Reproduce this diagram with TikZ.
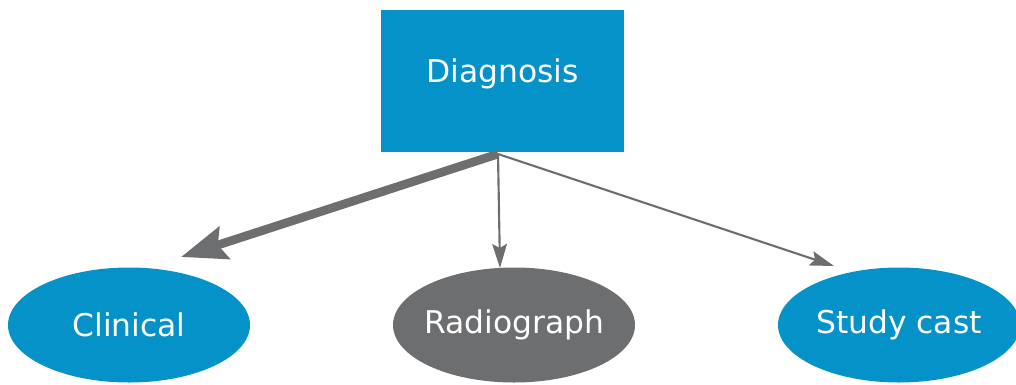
\documentclass[tikz,border=0pt]{standalone}
\usepackage{fontspec}
\setmainfont{DejaVu Sans}
\usetikzlibrary{arrows.meta,shapes.geometric}
\definecolor{cblue}{HTML}{0592C9}
\definecolor{cgray}{HTML}{6D6E70}
\begin{document}
\begin{tikzpicture}[x=0.75pt,y=-0.75pt,
  lbl/.style={text=white,font=\fontsize{23.5}{28}\selectfont},
  box/.style={lbl,fill=cblue,minimum width=182.25pt,minimum height=106.5pt,inner sep=0pt,text height=17pt,text depth=14pt},
  oval/.style={lbl,ellipse,minimum width=181.5pt,minimum height=86.25pt,inner xsep=-12pt,inner ysep=0pt},
  thin/.style={draw=cgray,line width=1.6pt,-{Stealth[length=18pt,width=11pt,inset=3pt]}},
  thick/.style={draw=cgray,line width=6.5pt,-{Stealth[length=34pt,width=25pt,inset=5pt]}}]
\useasboundingbox (0,0) rectangle (1016,385);
\node[box] (d) at (502.5,81) {Diagnosis};
\node[oval,fill=cblue] (c) at (129,325) {Clinical};
\node[oval,fill=cgray] (r) at (514,325) {Radiograph};
\node[oval,fill=cblue] (s) at (899,325) {Study cast};
\coordinate (o) at (498,154);
\coordinate (tc) at (181,257);
\coordinate (tr) at (500,268);
\coordinate (ts) at (834,266);
\draw[thick] (o) -- (tc);
\draw[thin] (o) -- (tr);
\draw[thin] (o) -- (ts);
\end{tikzpicture}
\end{document}
